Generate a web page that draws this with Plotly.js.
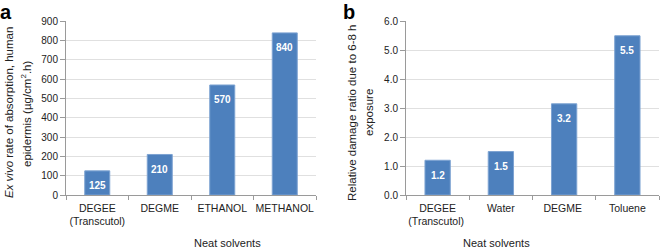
<!DOCTYPE html>
<html><head><meta charset="utf-8">
<script src="https://cdn.plot.ly/plotly-3.0.1.min.js"></script>
<style>html,body{margin:0;padding:0;background:#fff}</style>
</head><body><div id="chart" style="width:660px;height:248px"></div>
<script>
// Panel a
const catsA = ["DEGEE<br>(Transcutol)", "DEGME", "ETHANOL", "METHANOL"];
const valsA = [125, 210, 570, 840];
const labelsA = ["125", "210", "570", "840"];
// Panel b
const catsB = ["DEGEE<br>(Transcutol) ", "Water", "DEGME ", "Toluene"];
const valsB = [1.2, 1.5, 3.15, 5.5];
const labelsB = ["1.2", "1.5", "3.2", "5.5"];
const tickValsA = [0,100,200,300,400,500,600,700,800,900];
const tickValsB = [0,1,2,3,4,5,6];
const tickTextB = ["0.0","1.0","2.0","3.0","4.0","5.0","6.0"];
const titleA = ["<i>Ex vivo</i> rate of absorption, human", "epidermis (µg/cm<sup>2</sup>.h)"];
const titleB = ["Relative damage ratio due to 6-8 h", "exposure"];
const xTitle = "Neat solvents";

const FONT = "Liberation Sans, Arial, sans-serif";
const barColor = "#4d80bd";
const gridColor = "#e0e0e0";
const axisColor = "#9a9a9a";

const traces = [
  {type:"bar", x:catsA, y:valsA, xaxis:"x", yaxis:"y",
   marker:{color:barColor, line:{color:"#7da3d2", width:1}}, hoverinfo:"none"},
  {type:"bar", x:catsB, y:valsB, xaxis:"x2", yaxis:"y2",
   marker:{color:barColor, line:{color:"#7da3d2", width:1}}, hoverinfo:"none"}
];

const xCommon = {type:"category", showline:true, linecolor:axisColor, linewidth:1,
  ticks:"outside", tickson:"boundaries", ticklen:4, tickcolor:axisColor, tickangle:0,
  ticklabelstandoff:3,
  showgrid:false, tickfont:{family:FONT, size:10.5, color:"#222"}, fixedrange:true};
const yCommon = {showline:true, linecolor:axisColor, linewidth:1, ticks:"outside",
  ticklen:5, tickcolor:axisColor, showgrid:true, gridcolor:gridColor, gridwidth:1,
  zeroline:false, tickfont:{family:FONT, size:10, color:"#222"}, fixedrange:true};

const annotations = [];
valsA.forEach((v,i)=>annotations.push({xref:"x", yref:"y", x:catsA[i], y:v,
  text:"<b>"+labelsA[i]+"</b>", showarrow:false, yanchor:"middle", yshift:-15,
  font:{family:FONT, size:10, color:"#fff"}}));
valsB.forEach((v,i)=>annotations.push({xref:"x2", yref:"y2", x:catsB[i], y:v,
  text:"<b>"+labelsB[i]+"</b>", showarrow:false, yanchor:"middle", yshift:-15,
  font:{family:FONT, size:10, color:"#fff"}}));
// axis titles (one annotation per line)
const titleFont = {family:FONT, size:11.5, color:"#222"};
[[titleA, [9, 26]], [titleB, [352, 369]]].forEach(([lines, xs])=>{
  lines.forEach((t,k)=>annotations.push({xref:"paper", yref:"paper", x:xs[k]/660, y:1-113/248,
    textangle:-90, text:t, showarrow:false, font:titleFont, xanchor:"center", yanchor:"middle"}));
});
annotations.push({xref:"paper", yref:"paper", x:192/660, y:1-243/248,
  text:xTitle, showarrow:false, font:{family:FONT, size:11, color:"#222"}, yanchor:"middle"});
annotations.push({xref:"paper", yref:"paper", x:532/660, y:1-243/248,
  text:xTitle, showarrow:false, font:{family:FONT, size:11, color:"#222"}, yanchor:"middle"});
// panel letters
annotations.push({xref:"paper", yref:"paper", x:-1/660, y:1, xanchor:"left", yanchor:"top",
  text:"<b>a</b>", showarrow:false, font:{family:FONT, size:20, color:"#000"}, yshift:0, borderpad:0});
annotations.push({xref:"paper", yref:"paper", x:342/660, y:1, xanchor:"left", yanchor:"top",
  text:"<b>b</b>", showarrow:false, font:{family:FONT, size:20, color:"#000"}, yshift:0, borderpad:0});

const layout = {
  width:660, height:248, margin:{l:0,r:0,t:0,b:0},
  paper_bgcolor:"#fff", plot_bgcolor:"#fff", showlegend:false, bargap:0.6,
  xaxis:Object.assign({}, xCommon, {domain:[66/660, 316/660], anchor:"y"}),
  yaxis:Object.assign({}, yCommon, {domain:[1-195/248, 1-21.3/248], range:[0,900],
    tickvals:tickValsA, anchor:"x"}),
  xaxis2:Object.assign({}, xCommon, {domain:[406/660, 659/660], anchor:"y2"}),
  yaxis2:Object.assign({}, yCommon, {domain:[1-195/248, 1-21.3/248], range:[0,6],
    tickvals:tickValsB, ticktext:tickTextB, anchor:"x2"}),
  annotations:annotations
};
Plotly.newPlot("chart", traces, layout, {staticPlot:true, displayModeBar:false});
</script></body></html>
